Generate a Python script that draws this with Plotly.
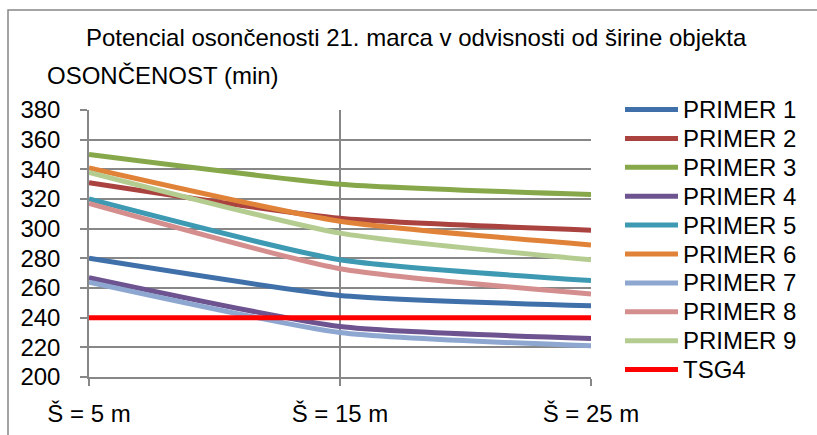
import plotly.graph_objects as go

# Širina objekta (m) and category labels
sirina = [5, 15, 25]
oznake_x = ["Š = 5 m", "Š = 15 m", "Š = 25 m"]

# Osončenost (min) za posamezne primere
primer_1 = [280, 255, 248]
primer_2 = [331, 307, 299]
primer_3 = [350, 330, 323]
primer_4 = [267, 234, 226]
primer_5 = [320, 279, 265]
primer_6 = [341, 305, 289]
primer_7 = [264, 230, 221]
primer_8 = [317, 273, 256]
primer_9 = [338, 297, 279]
tsg4 = [240, 240, 240]

imena = ["PRIMER 1", "PRIMER 2", "PRIMER 3", "PRIMER 4", "PRIMER 5",
         "PRIMER 6", "PRIMER 7", "PRIMER 8", "PRIMER 9", "TSG4"]
serije = [primer_1, primer_2, primer_3, primer_4, primer_5,
          primer_6, primer_7, primer_8, primer_9, tsg4]
barve = ["#4070AA", "#AA4240", "#86A84B", "#6D5490", "#3D9AB2",
         "#E08339", "#8EA7D0", "#D48E8D", "#B5CC90", "#FF0000"]

FONT = "Liberation Sans, Arial, sans-serif"
FS = 24
SIVA = "#878787"

# plot-area geometry in pixels (817 x 435 canvas)
W, H = 817, 435
L, R, T, B = 89, 591, 110, 377


def px_x(px):
    return (px - L) / (R - L)


def px_y(py):
    return (B - py) / (B - T)


fig = go.Figure()
for ime, vrednosti, barva in zip(imena, serije, barve):
    fig.add_trace(go.Scatter(
        x=sirina, y=vrednosti, name=ime, mode="lines",
        line=dict(color=barva, width=5, shape="spline", smoothing=0.55),
        showlegend=False,
    ))

shapes = []
annotations = []

# chart frame
shapes.append(dict(type="rect", xref="paper", yref="paper",
                   x0=px_x(8), x1=px_x(835), y0=px_y(10), y1=px_y(450),
                   line=dict(color=SIVA, width=1.5), layer="below"))

# legend
for i, (ime, barva) in enumerate(zip(imena, barve)):
    yy = px_y(109.5 + i * 28.9)
    shapes.append(dict(type="line", xref="paper", yref="paper",
                       x0=px_x(625), x1=px_x(678), y0=yy, y1=yy,
                       line=dict(color=barva, width=5)))
    annotations.append(dict(xref="paper", yref="paper", x=px_x(681), y=yy,
                            text=ime, showarrow=False, xanchor="left",
                            yanchor="middle",
                            font=dict(family=FONT, size=FS, color="#000")))

# title and axis title
annotations.append(dict(xref="paper", yref="paper", x=px_x(416), y=px_y(37),
                        text="Potencial osončenosti 21. marca v odvisnosti od širine objekta",
                        showarrow=False, xanchor="center", yanchor="middle",
                        font=dict(family=FONT, size=FS, color="#000")))
annotations.append(dict(xref="paper", yref="paper", x=px_x(45), y=px_y(76),
                        text="OSONČENOST (min)",
                        showarrow=False, xanchor="left", yanchor="middle",
                        font=dict(family=FONT, size=FS, color="#000")))

fig.update_layout(
    width=W, height=H,
    margin=dict(l=L, r=W - R, t=T, b=H - B, pad=0, autoexpand=False),
    paper_bgcolor="white", plot_bgcolor="white",
    font=dict(family=FONT, size=FS, color="#000"),
    shapes=shapes, annotations=annotations,
    showlegend=False,
)
fig.update_xaxes(
    range=[5, 25], tickvals=sirina, ticktext=oznake_x,
    showgrid=True, gridcolor=SIVA, gridwidth=1.5,
    showline=True, linecolor=SIVA, linewidth=1.5,
    ticks="outside", ticklen=7, tickcolor=SIVA, tickwidth=1.5,
    ticklabelstandoff=7, zeroline=False, automargin=False,
    tickfont=dict(family=FONT, size=FS, color="#000"),
)
fig.update_yaxes(
    range=[200, 380], dtick=20, tick0=200,
    showgrid=True, gridcolor=SIVA, gridwidth=1.5,
    showline=True, linecolor=SIVA, linewidth=1.5,
    ticks="outside", ticklen=7, tickcolor=SIVA, tickwidth=1.5,
    ticklabelstandoff=15, zeroline=False, automargin=False,
    tickfont=dict(family=FONT, size=FS, color="#000"),
)

fig.write_html("out.html")
